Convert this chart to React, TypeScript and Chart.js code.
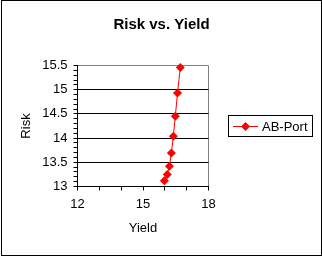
import React, { useEffect, useRef } from "react";
import { Chart, registerables } from "chart.js";

Chart.register(...registerables);

const chartTitle = "Risk vs. Yield";
const seriesName = "AB-Port";
const yieldValues = [15.98, 16.11, 16.21, 16.3, 16.39, 16.48, 16.58, 16.71];
const riskValues = [13.12, 13.25, 13.42, 13.69, 14.04, 14.45, 14.93, 15.46];
const xMajorTicks = [12, 15, 18];
const yMajorTicks = [13, 13.5, 14, 14.5, 15, 15.5];
const yGridLines = [13.5, 14, 14.5, 15];

const FONT = "'Liberation Sans', Arial, sans-serif";
const RED = "#FF0000";

const near = (a: number, list: number[]) => list.some((v) => Math.abs(v - a) < 1e-6);

const excelDecor = {
  id: "excelDecor",
  afterDraw(chart: any) {
    const ctx = chart.ctx;
    ctx.save();
    // outer frame
    ctx.strokeStyle = "#000";
    ctx.lineWidth = 1;
    ctx.strokeRect(1.5, 0.5, 320, 255);
    // title
    ctx.fillStyle = "#000";
    ctx.font = `bold 15px ${FONT}`;
    ctx.textAlign = "center";
    ctx.textBaseline = "alphabetic";
    ctx.fillText(chartTitle, 161.5, 29);
    // legend
    const ds = chart.data.datasets[0];
    ctx.strokeStyle = "#000";
    ctx.strokeRect(228.5, 115.5, 84, 21);
    ctx.strokeStyle = ds.borderColor;
    ctx.beginPath();
    ctx.moveTo(233, 126.5);
    ctx.lineTo(258, 126.5);
    ctx.stroke();
    ctx.fillStyle = ds.pointBackgroundColor;
    ctx.beginPath();
    const cx = 245.5, cy = 126.5, r = 4.5;
    ctx.moveTo(cx, cy - r);
    ctx.lineTo(cx + r, cy);
    ctx.lineTo(cx, cy + r);
    ctx.lineTo(cx - r, cy);
    ctx.closePath();
    ctx.fill();
    ctx.fillStyle = "#000";
    ctx.font = `13px ${FONT}`;
    ctx.textAlign = "left";
    ctx.fillText(ds.label, 262, 131);
    ctx.restore();
  },
};

export default function App() {
  const ref = useRef<HTMLCanvasElement | null>(null);
  useEffect(() => {
    if (!ref.current) return;
    const chart = new Chart(ref.current, {
      type: "scatter",
      data: {
        datasets: [
          {
            label: seriesName,
            data: yieldValues.map((x, i) => ({ x, y: riskValues[i] })),
            showLine: true,
            borderColor: RED,
            backgroundColor: RED,
            pointBackgroundColor: RED,
            pointBorderColor: RED,
            borderWidth: 1,
            pointStyle: "rectRot",
            pointRadius: 4.5,
            pointBorderWidth: 0,
            clip: false as any,
          },
        ],
      },
      options: {
        animation: false,
        responsive: false,
        devicePixelRatio: 1,
        layout: { padding: { top: 65.5, right: 113.5, left: 0, bottom: 0 } },
        plugins: {
          legend: { display: false },
          title: { display: false },
          tooltip: { enabled: false },
        },
        scales: {
          x: {
            type: "linear",
            min: 12,
            max: 18,
            afterFit: (s: any) => {
              s.height = 69.5;
            },
            ticks: {
              stepSize: 1,
              autoSkip: false,
              maxRotation: 0,
              padding: 6,
              color: "#000",
              font: { family: FONT, size: 13 },
              callback: (v: any) => (near(Number(v), xMajorTicks) ? String(v) : ""),
            },
            grid: {
              color: (c: any) =>
                c.tick && Math.abs(c.tick.value - 18) < 1e-6 ? "#808080" : "rgba(0,0,0,0)",
              tickColor: "#000",
              tickLength: 4,
              lineWidth: 1,
            },
            border: { display: true, color: "#000", width: 1 },
            title: {
              display: true,
              text: "Yield",
              color: "#000",
              font: { family: FONT, size: 13 },
              padding: { top: 0, bottom: 20 },
            },
          },
          y: {
            type: "linear",
            min: 13,
            max: 15.5,
            afterFit: (s: any) => {
              s.width = 77.5;
            },
            ticks: {
              stepSize: 0.1,
              autoSkip: false,
              padding: 6,
              color: "#000",
              font: { family: FONT, size: 13 },
              callback: (v: any) => {
                const n = Math.round(Number(v) * 10) / 10;
                return near(n, yMajorTicks) ? String(n) : "";
              },
            },
            grid: {
              color: (c: any) => {
                if (!c.tick) return "rgba(0,0,0,0)";
                const n = Math.round(c.tick.value * 10) / 10;
                if (near(n, yGridLines)) return "#000";
                if (Math.abs(n - 15.5) < 1e-6) return "#808080";
                return "rgba(0,0,0,0)";
              },
              tickColor: "#000",
              tickLength: 4,
              lineWidth: 1,
            },
            border: { display: true, color: "#000", width: 1 },
            title: {
              display: true,
              text: "Risk",
              color: "#000",
              font: { family: FONT, size: 13 },
              padding: { top: 19, bottom: 0 },
            },
          },
        },
      },
      plugins: [excelDecor],
    });
    return () => chart.destroy();
  }, []);
  return (
    <div style={{ position: "fixed", left: 0, top: 0, width: 322, height: 256, background: "#fff" }}>
      <canvas ref={ref} width={322} height={256} style={{ width: 322, height: 256, display: "block" }} />
    </div>
  );
}
